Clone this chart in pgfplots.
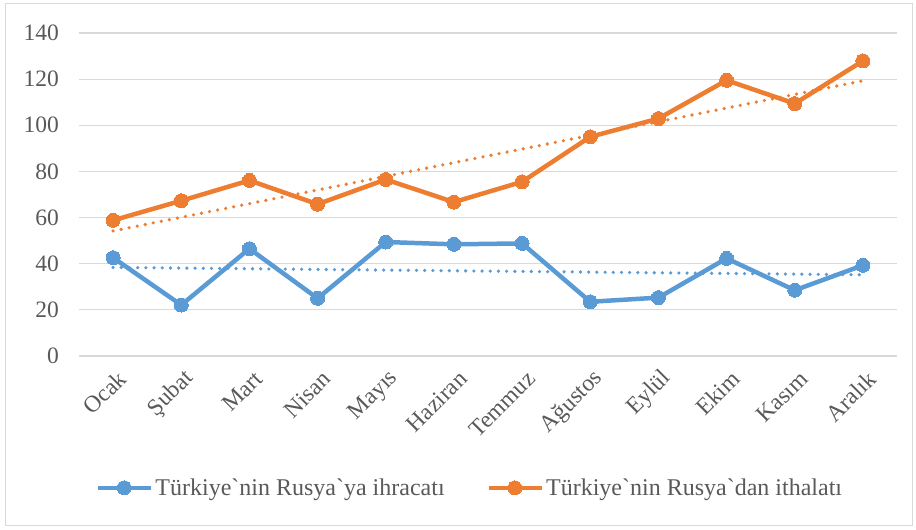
\documentclass[border=0pt]{standalone}
\usepackage{pgfplots}
\pgfplotsset{compat=1.18}
\usepackage{fontspec}
\setmainfont{Liberation Serif}
\definecolor{sblue}{HTML}{5B9BD5}
\definecolor{sorange}{HTML}{ED7D31}
\definecolor{lbl}{HTML}{595959}
\definecolor{gridc}{HTML}{D9D9D9}
\begin{document}
\begin{tikzpicture}[x=1pt,y=1pt]
\useasboundingbox (0,0) rectangle (916,530);
\draw[gridc, line width=1.2pt] (5.5,4.5) rectangle (912.5,526.5);
\begin{axis}[
  at={(79pt,174pt)}, anchor=south west,
  scale only axis, width=818pt, height=323pt,
  xmin=-0.5, xmax=11.5, ymin=0, ymax=140,
  ytick={0,20,...,140},
  xtick={0,...,11},
  xticklabels={Ocak,Şubat,Mart,Nisan,Mayıs,Haziran,Temmuz,Ağustos,Eylül,Ekim,Kasım,Aralık},
  axis line style={draw=none}, tick style={draw=none},
  ymajorgrids, grid style={gridc, line width=1.2pt},
  /pgf/number format/assume math mode=true,
  ticklabel style={font=\fontsize{23.5}{26}\selectfont, text=lbl},
  yticklabel style={anchor=east, inner sep=0pt, xshift=-20pt},
  xticklabel style={rotate=45, anchor=east, inner sep=0pt, xshift=-7pt, yshift=-20pt},
  legend style={at={(0.478,-0.408)}, anchor=center, draw=none, fill=none,
    font=\fontsize{24}{26}\selectfont, text=lbl, inner sep=0pt,
    /tikz/every even column/.append style={column sep=40pt}},
  legend columns=2,
  legend image code/.code={
    \draw[#1, mark repeat=2, mark phase=2] plot coordinates {(0pt,0pt) (26pt,0pt) (53pt,0pt)};
  },
]
\addplot[sblue, line width=4.5pt, mark=*, mark size=7pt, mark options={line width=0pt}] coordinates {
(0,42.6) (1,22.1) (2,46.5) (3,25.0) (4,49.4) (5,48.4) (6,48.8) (7,23.5) (8,25.3) (9,42.3) (10,28.5) (11,39.3)};
\addlegendentry{Türkiye\textasciigrave nin Rusya\textasciigrave ya ihracatı}
\addplot[sorange, line width=4.5pt, mark=*, mark size=7pt, mark options={line width=0pt}] coordinates {
(0,58.8) (1,67.3) (2,76.1) (3,65.8) (4,76.5) (5,66.7) (6,75.5) (7,95.0) (8,102.9) (9,119.5) (10,109.4) (11,127.9)};
\addlegendentry{Türkiye\textasciigrave nin Rusya\textasciigrave dan ithalatı}
\addplot[forget plot, sblue, line width=3.6pt, line cap=round, dash pattern=on 0pt off 8.2pt] coordinates {(0,38.4) (11,35.2)};
\addplot[forget plot, sorange, line width=3.6pt, line cap=round, dash pattern=on 0pt off 8.2pt] coordinates {(0,54.2) (11,119.3)};
\end{axis}
\end{tikzpicture}
\end{document}
